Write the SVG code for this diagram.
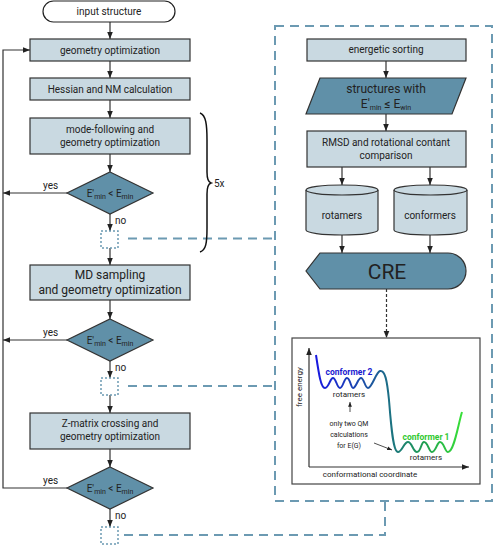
<svg xmlns="http://www.w3.org/2000/svg" width="497" height="545" viewBox="0 0 497 545">
<style>
text{font-family:Roboto,"Liberation Sans",sans-serif;fill:#222}
.box{fill:#c9d9e1;stroke:#333;stroke-width:1.2}
.dark{fill:#6090a8;stroke:#333;stroke-width:1.2}
.t10{font-size:10px;text-anchor:middle}
.t12{font-size:12px;text-anchor:middle}
.ln{fill:none;stroke:#333;stroke-width:1.2}
.dash{fill:none;stroke:#6c9ab2;stroke-width:2;stroke-dasharray:9,6}
.dot{fill:none;stroke:#6c9ab2;stroke-width:1.5;stroke-dasharray:2,2}
.sub{font-size:7px}
</style>
<defs>
<marker id="ah" viewBox="0 0 10 10" refX="10" refY="5" markerWidth="6" markerHeight="6" orient="auto"><path d="M0,1 L10,5 L0,9 z" fill="#222"/></marker>
<linearGradient id="g" gradientUnits="userSpaceOnUse" x1="316" y1="0" x2="462" y2="0">
<stop offset="0" stop-color="#1818e0"/><stop offset="0.4" stop-color="#1c5a9a"/><stop offset="0.55" stop-color="#1c7a7a"/><stop offset="0.75" stop-color="#20a050"/><stop offset="1" stop-color="#38e038"/>
</linearGradient>
</defs>

<g id="connectors">
<line class="ln" x1="110" y1="22" x2="110" y2="39" marker-end="url(#ah)"/>
<line class="ln" x1="110" y1="61" x2="110" y2="78" marker-end="url(#ah)"/>
<line class="ln" x1="110" y1="100" x2="110" y2="118" marker-end="url(#ah)"/>
<line class="ln" x1="110" y1="154" x2="110" y2="172" marker-end="url(#ah)"/>
<line class="ln" x1="110" y1="214" x2="110" y2="231" marker-end="url(#ah)"/>
<line class="ln" x1="110" y1="248" x2="110" y2="265" marker-end="url(#ah)"/>
<line class="ln" x1="110" y1="300" x2="110" y2="319" marker-end="url(#ah)"/>
<line class="ln" x1="110" y1="361" x2="110" y2="378" marker-end="url(#ah)"/>
<line class="ln" x1="110" y1="395" x2="110" y2="413" marker-end="url(#ah)"/>
<line class="ln" x1="110" y1="449" x2="110" y2="467" marker-end="url(#ah)"/>
<line class="ln" x1="110" y1="509" x2="110" y2="527" marker-end="url(#ah)"/>
<line class="ln" x1="67" y1="193" x2="3" y2="193" marker-end="url(#ah)"/>
<line class="ln" x1="67" y1="340" x2="3" y2="340" marker-end="url(#ah)"/>
<path class="ln" d="M67,488 H3 V50 H30" marker-end="url(#ah)"/>
<line class="dash" x1="128" y1="238.5" x2="275" y2="238.5"/>
<line class="dash" x1="128" y1="386" x2="275" y2="386"/>
<path class="dash" d="M124,535 H385 V502"/>
<rect class="dash" x="275" y="26" width="217" height="475"/>
<line class="ln" x1="386" y1="61" x2="386" y2="78" marker-end="url(#ah)"/>
<line class="ln" x1="386" y1="114" x2="386" y2="131" marker-end="url(#ah)"/>
<line class="ln" x1="342" y1="167" x2="342" y2="185" marker-end="url(#ah)"/>
<line class="ln" x1="430" y1="167" x2="430" y2="185" marker-end="url(#ah)"/>
<line class="ln" x1="342" y1="235" x2="342" y2="253" marker-end="url(#ah)"/>
<line class="ln" x1="430" y1="235" x2="430" y2="253" marker-end="url(#ah)"/>
<line class="ln" x1="386.5" y1="289" x2="386.5" y2="338" stroke-dasharray="3,2" marker-end="url(#ah)"/>
</g>

<g id="input"><rect x="43" y="1" width="132" height="21" rx="10.5" fill="#fff" stroke="#222" stroke-width="1.2"/><text class="t10" x="109" y="15">input structure</text></g>
<g id="geo"><rect class="box" x="30" y="39" width="160" height="22"/><text class="t10" x="110" y="54">geometry optimization</text></g>
<g id="hess"><rect class="box" x="30" y="78" width="160" height="22"/><text class="t10" x="110" y="93">Hessian and NM calculation</text></g>
<g id="mode"><rect class="box" x="30" y="118" width="160" height="36"/><text class="t10" x="110" y="133">mode-following and</text><text class="t10" x="110" y="146">geometry optimization</text></g>
<g id="dec1"><polygon class="dark" points="110,172 153,193 110,214 67,193"/><text class="t10" x="110" y="197">E'<tspan class="sub" dy="2">min</tspan><tspan dy="-2"> &lt; E</tspan><tspan class="sub" dy="2">min</tspan></text><text x="43" y="189" font-size="10">yes</text><text x="115" y="224" font-size="10">no</text></g>
<g id="sq1"><rect class="dot" x="101" y="231" width="17" height="17"/></g>
<g id="md"><rect class="box" x="30" y="265" width="160" height="35"/><text class="t12" x="110" y="279">MD sampling</text><text class="t12" x="110" y="294">and geometry optimization</text></g>
<g id="dec2"><polygon class="dark" points="110,319 153,340 110,361 67,340"/><text class="t10" x="110" y="344">E'<tspan class="sub" dy="2">min</tspan><tspan dy="-2"> &lt; E</tspan><tspan class="sub" dy="2">min</tspan></text><text x="43" y="336" font-size="10">yes</text><text x="115" y="371" font-size="10">no</text></g>
<g id="sq2"><rect class="dot" x="101" y="378" width="17" height="17"/></g>
<g id="zmat"><rect class="box" x="30" y="413" width="160" height="36"/><text class="t10" x="110" y="427">Z-matrix crossing and</text><text class="t10" x="110" y="440">geometry optimization</text></g>
<g id="dec3"><polygon class="dark" points="110,467 153,488 110,509 67,488"/><text class="t10" x="110" y="492">E'<tspan class="sub" dy="2">min</tspan><tspan dy="-2"> &lt; E</tspan><tspan class="sub" dy="2">min</tspan></text><text x="43" y="484" font-size="10">yes</text><text x="115" y="519" font-size="10">no</text></g>
<g id="sq3"><rect class="dot" x="101" y="527" width="17" height="17"/></g>

<g id="brace"><path d="M200,113 C206,115 207,125 207,140 L207,172 C207,179 208,182 211,183 C208,184 207,187 207,194 L207,228 C207,243 206,250 200,252" fill="none" stroke="#111" stroke-width="1.5"/><text x="214" y="187" font-size="10">5x</text></g>

<g id="sort"><rect class="box" x="307" y="39" width="159" height="22"/><text class="t10" x="386" y="53">energetic sorting</text></g>
<g id="structs"><polygon class="dark" points="320,78 466,78 452,114 306,114"/><text class="t12" x="386" y="93">structures with</text><text class="t12" x="386" y="108">E'<tspan class="sub" dy="2">min</tspan><tspan dy="-2"> ≤ E</tspan><tspan class="sub" dy="2">win</tspan></text></g>
<g id="rmsd"><rect class="box" x="307" y="131" width="159" height="36"/><text class="t10" x="386" y="146">RMSD and rotational contant</text><text class="t10" x="386" y="159">comparison</text></g>
<g id="rot"><path class="box" d="M306,190 A36,5 0 0 1 378,190 V230 A36,5 0 0 1 306,230 Z"/><path d="M306,190 A36,5 0 0 0 378,190" fill="none" stroke="#333" stroke-width="1.2"/><text class="t10" x="342" y="219">rotamers</text></g>
<g id="conf"><path class="box" d="M394,190 A36.5,5 0 0 1 467,190 V230 A36.5,5 0 0 1 394,230 Z"/><path d="M394,190 A36.5,5 0 0 0 467,190" fill="none" stroke="#333" stroke-width="1.2"/><text class="t10" x="430" y="219">conformers</text></g>
<g id="cre"><path class="dark" d="M320,253 H448 A18,18 0 0 1 448,289 H320 L306,271 Z"/><text x="387" y="279" font-size="21" text-anchor="middle">CRE</text></g>

<g id="graph">
<rect x="292" y="338" width="188" height="146" fill="#fff" stroke="#444" stroke-width="1.2"/>
<line class="ln" x1="309" y1="467" x2="309" y2="348" marker-end="url(#ah)"/>
<line class="ln" x1="309" y1="467" x2="469" y2="467" marker-end="url(#ah)"/>
<text x="302" y="407" font-size="8" transform="rotate(-90 302 407)">free energy</text>
<text x="370" y="477" font-size="8" text-anchor="middle">conformational coordinate</text>
<path d="M316,355 C319,375 321,388 325,388 C329,388 330,378 333,378 C336,378 337,388 340,388 C343,388 344,378 347,378 C350,378 351,388 353,388 C356,388 358,378 361,378 C364,378 365,388 368,388 C372,388 376,372 380,371 C385,370 387,380 389,400 C391,425 393,452 398,452 C402,452 404,442 408,442 C412,442 413,452 417,452 C421,452 421,442 424,442 C428,442 429,452 432,452 C436,452 437,442 440,442 C444,442 445,452 448,452 C454,452 458,425 462,412" fill="none" stroke="url(#g)" stroke-width="2"/>
<text x="349" y="375" font-size="8.5" font-weight="bold" text-anchor="middle" style="fill:#1a1ad0">conformer  2</text>
<text x="349" y="397" font-size="8" text-anchor="middle">rotamers</text>
<line x1="350" y1="412" x2="350" y2="402" stroke="#222" stroke-width="0.8" marker-end="url(#ah)"/>
<text x="349" y="426" font-size="7" text-anchor="middle">only two QM</text>
<text x="349" y="437" font-size="7" text-anchor="middle">calculations</text>
<text x="349" y="448" font-size="7" text-anchor="middle">for E(G)</text>
<line x1="374" y1="443" x2="392" y2="450" stroke="#222" stroke-width="0.8" marker-end="url(#ah)"/>
<text x="426" y="440" font-size="8.5" font-weight="bold" text-anchor="middle" style="fill:#30c830">conformer  1</text>
<text x="426" y="460" font-size="8" text-anchor="middle">rotamers</text>
</g>
</svg>
